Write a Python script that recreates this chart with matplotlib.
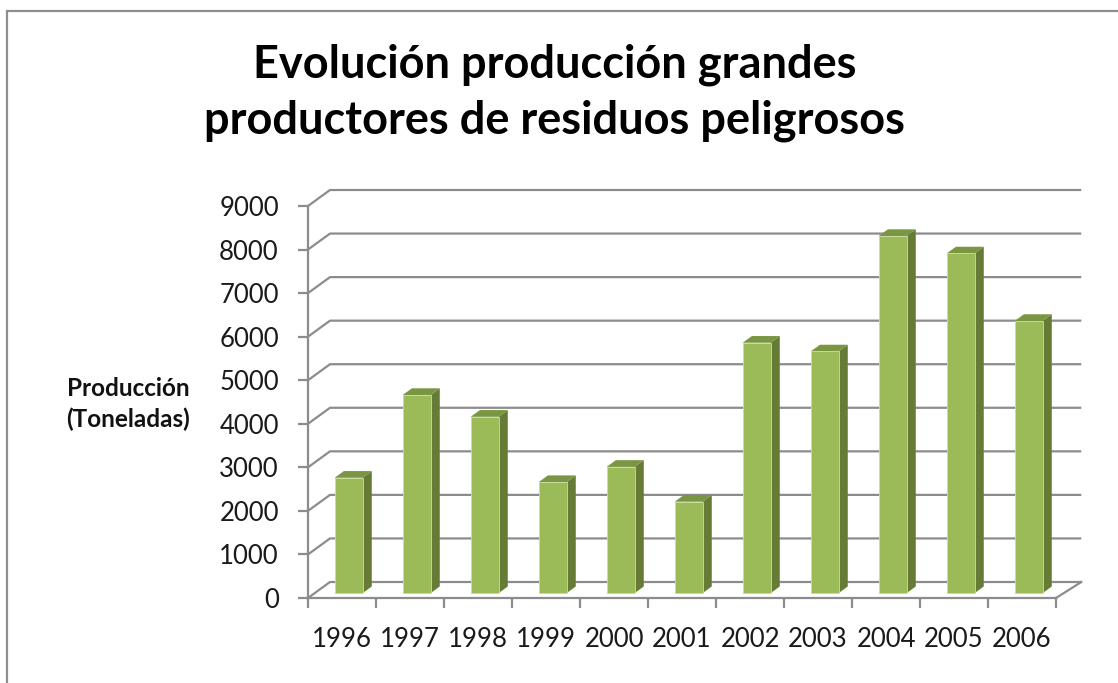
import numpy as np
import matplotlib
matplotlib.use('Agg')
import matplotlib.pyplot as plt
from matplotlib.patches import Rectangle, Polygon

years = ['1996', '1997', '1998', '1999', '2000', '2001', '2002', '2003', '2004', '2005', '2006']
produccion = [2650, 4550, 4050, 2550, 2900, 2100, 5750, 5550, 8200, 7800, 6250]
yticks = [0, 1000, 2000, 3000, 4000, 5000, 6000, 7000, 8000, 9000]

title = 'Evolución producción grandes\nproductores de residuos peligrosos'
ylabel = 'Producción\n(Toneladas)'

plt.rcParams['font.family'] = ['Lato', 'DejaVu Sans']

W, H = 1118, 683
fig = plt.figure(figsize=(W / 100, H / 100), dpi=100)

# frame (only left/top visible, rest cut off)
fig.patches.append(Rectangle((7 / W, -0.2), 1.5, 1.2 - 11 / H, transform=fig.transFigure,
                             fill=False, edgecolor='#8e8e8e', lw=1.6))

# front plane of the 3d box
x0, x1, y0, y1 = 308, 1056, 598, 206
ax = fig.add_axes([x0 / W, 1 - y0 / H, (x1 - x0) / W, (y0 - y1) / H])
n = len(years)
ax.set_xlim(0, n)
ax.set_ylim(0, 9000)
ax.set_facecolor('none')

# depth offsets in data units (22px right, 16px up)
DX = 22 / ((x1 - x0) / n)
DY = 16 / (y0 - y1) * 9000

grid_c = '#8c8c8c'
for v in yticks:
    ax.plot([0, DX, n + DX * 1.15], [v, v + DY, v + DY], color=grid_c, lw=1.6,
            clip_on=False, zorder=1, solid_capstyle='butt')
ax.plot([n, n + DX * 1.15], [0, DY], color=grid_c, lw=1.6, clip_on=False, zorder=1)

for s in ['top', 'right']:
    ax.spines[s].set_visible(False)
for s in ['left', 'bottom']:
    ax.spines[s].set_color(grid_c)
    ax.spines[s].set_linewidth(1.6)

ax.set_yticks(yticks)
ax.set_yticklabels([str(v) for v in yticks], fontsize=18.5, color='#1a1a1a')
ax.tick_params(axis='y', length=7, width=1.6, color=grid_c, pad=14)
ax.set_xticks(np.arange(n + 1))
ax.set_xticklabels([])
ax.set_xticks(np.arange(n) + 0.5, minor=True)
ax.set_xticklabels(years, minor=True, fontsize=18.5, color='#1a1a1a')
ax.tick_params(axis='x', which='major', length=7, width=1.6, color=grid_c)
ax.tick_params(axis='x', which='minor', length=0, pad=21)

# 3d bars
bw = 0.41
d0, d1 = 0.30, 0.72
front_c, side_c, top_c = '#9bbb59', '#667c36', '#7a9642'
for i, v in enumerate(produccion):
    xl = i + 0.5 - bw / 2 + d0 * DX
    xr = xl + bw
    yb = d0 * DY
    ddx, ddy = (d1 - d0) * DX, (d1 - d0) * DY
    ax.add_patch(Polygon([(xr, yb), (xr + ddx, yb + ddy), (xr + ddx, yb + v + ddy), (xr, yb + v)],
                         closed=True, facecolor=side_c, edgecolor='none', zorder=3, clip_on=False))
    ax.add_patch(Polygon([(xl, yb + v), (xr, yb + v), (xr + ddx, yb + v + ddy), (xl + ddx, yb + v + ddy)],
                         closed=True, facecolor=top_c, edgecolor='none', zorder=3, clip_on=False))
    ax.add_patch(Rectangle((xl, yb), bw, v, facecolor=front_c, edgecolor='#c9dca0', lw=0.6,
                           zorder=4, clip_on=False))

fig.text(555 / W, 1 - 93 / H, title, ha='center', va='center', fontsize=32.5, fontweight='bold',
         linespacing=1.4, color='black')
fig.text(128 / W, 1 - 404 / H, ylabel, ha='center', va='center', fontsize=17.5, fontweight='bold',
         linespacing=1.35, color='#111111')

fig.savefig('out.png', dpi=100)
